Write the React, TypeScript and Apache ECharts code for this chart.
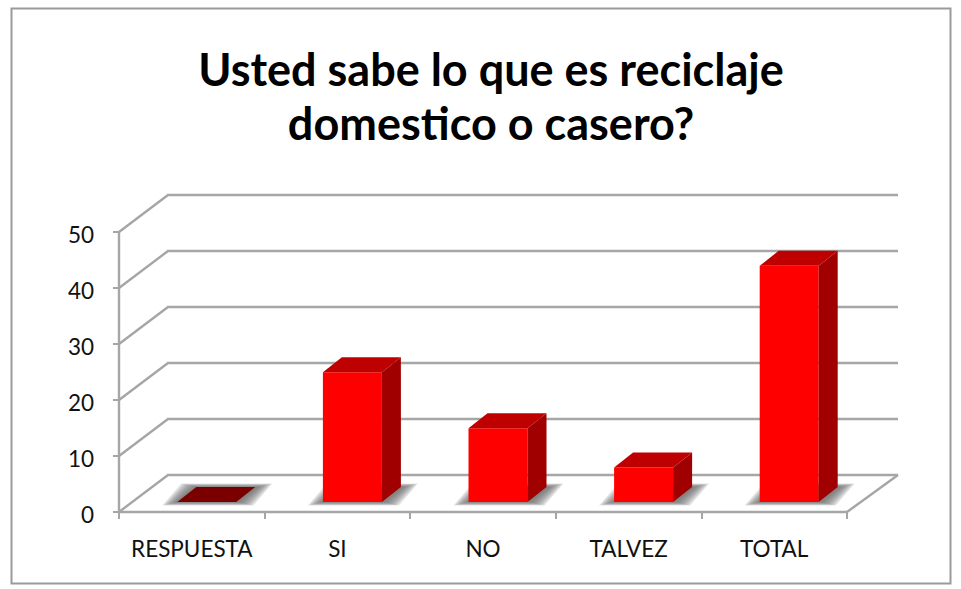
import React, { useEffect, useRef } from "react";
import * as echarts from "echarts";

const categories = ["RESPUESTA", "SI", "NO", "TALVEZ", "TOTAL"];
const values = [0, 23, 13, 6, 42];
const yTicks = [0, 10, 20, 30, 40, 50];
const titleLines = "Usted sabe lo que es reciclaje\ndomestico o casero?";

const GRID = "#a6a6a6";
const DX = 49;
const DY = -37;
const FONT = "Lato, 'Open Sans', sans-serif";

const wallItem = (params: any, api: any) => {
  const v = api.value(0);
  const [, y0] = api.coord([0, v]);
  const x0 = params.coordSys.x;
  const x1 = params.coordSys.x + params.coordSys.width;
  const children: any[] = [
    { type: "polyline", shape: { points: [[x0, y0], [x0 + DX, y0 + DY], [x1 + DX + 2, y0 + DY]] }, style: { fill: "none", stroke: GRID, lineWidth: 2.4 } },
  ];
  if (v === 0) {
    children.push({ type: "line", shape: { x1: x1, y1: y0, x2: x1 + DX + 2, y2: y0 + DY }, style: { stroke: GRID, lineWidth: 2.4 } });
  }
  return { type: "group", children };
};

const barItem = (params: any, api: any) => {
  const idx = api.value(0);
  const v = api.value(1);
  const [cx, base] = api.coord([idx, 0]);
  const [, top] = api.coord([idx, v]);
  const bw = 59;
  const l = cx - bw / 2 + 15;
  const r = l + bw;
  const b = base - 10;
  const t = top - 11;
  const ddx = 19;
  const ddy = -15;
  const children: any[] = [];
  // soft floor shadow, stacked from wide and pale to narrow and dark
  for (let k = 7; k >= 0; k--) {
    const left = l - 1 - k * 2;
    const right = r + 3 + k * 2;
    const gy = k * 0.5;
    children.push({
      type: "polygon",
      shape: { points: [[left, b + gy], [right, b + gy], [right + ddx, b + ddy - gy], [left + ddx, b + ddy - gy]] },
      style: { fill: "rgba(110,110,110,0.2)" },
    });
  }
  if (v === 0) {
    children.push({ type: "polygon", shape: { points: [[l, b], [r, b], [r + ddx, b + ddy], [l + ddx, b + ddy]] }, style: { fill: "#7a0000" } });
  } else {
    children.push(
      { type: "rect", shape: { x: l, y: t, width: bw, height: b - t }, style: { fill: "#ff0000" } },
      { type: "polygon", shape: { points: [[l, t], [r, t], [r + ddx, t + ddy], [l + ddx, t + ddy]] }, style: { fill: "#bf0000" } },
      { type: "polygon", shape: { points: [[r, t], [r + ddx, t + ddy], [r + ddx, b + ddy], [r, b]] }, style: { fill: "#a00000" } }
    );
  }
  return { type: "group", children };
};

export default function App() {
  const ref = useRef<HTMLDivElement>(null);
  useEffect(() => {
    const chart = echarts.init(ref.current!, null, { renderer: "svg" });
    chart.setOption({
      animation: false,
      backgroundColor: "#ffffff",
      graphic: [
        { type: "rect", z: 0, shape: { x: 11.5, y: 8.5, width: 939, height: 575 }, style: { fill: "#fff", stroke: "#9a9a9a", lineWidth: 2 } },
      ],
      title: {
        text: titleLines,
        left: 486,
        top: 37,
        textAlign: "center",
        textStyle: { fontFamily: FONT, fontSize: 45, fontWeight: "bold", color: "#000", lineHeight: 54 },
      },
      grid: { left: 119, top: 232, width: 728, height: 280 },
      xAxis: {
        type: "category",
        data: categories,
        boundaryGap: true,
        axisLine: { lineStyle: { color: GRID, width: 2.4 } },
        axisTick: { show: true, length: 7, interval: 0, alignWithLabel: false, lineStyle: { color: GRID, width: 2 } },
        axisLabel: { interval: 0, margin: 25, fontFamily: FONT, fontSize: 22.5, color: "#111" },
      },
      yAxis: {
        type: "value",
        min: 0,
        max: 50,
        interval: 10,
        axisLine: { show: true, lineStyle: { color: GRID, width: 2.4 } },
        axisTick: { show: true, length: 6, lineStyle: { color: GRID, width: 2 } },
        axisLabel: {
          margin: 25,
          formatter: "{a|{value}}",
          rich: { a: { padding: [4, 0, 0, 0], fontFamily: FONT, fontSize: 22.5, color: "#111" } },
        },
        splitLine: { show: false },
      },
      series: [
        { type: "custom", name: "wall", renderItem: wallItem, data: yTicks.map((v) => [v]), encode: { y: 0 }, silent: true, z: 1, clip: false },
        { type: "custom", name: "bars", renderItem: barItem, data: values.map((v, i) => [i, v]), encode: { x: 0, y: 1 }, silent: true, z: 3, clip: false },
      ],
    });
    return () => chart.dispose();
  }, []);
  return <div ref={ref} style={{ width: 961, height: 589, position: "absolute", left: 0, top: 0 }} />;
}
